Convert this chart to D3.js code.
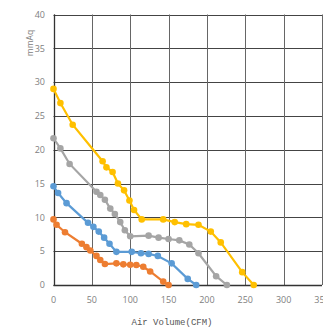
<!DOCTYPE html>
<html><head><meta charset="utf-8">
<script src="https://cdn.jsdelivr.net/npm/d3@7"></script>
<style>body{margin:0;background:#fff;}svg{display:block;}</style>
</head><body>
<svg id="c" width="323" height="327"></svg>
<script>
const xTicks = [0,50,100,150,200,250,300,350];
const yTicks = [0,5,10,15,20,25,30,35,40];
const xLabel = "Air Volume(CFM)";
const yLabel = "mmAq";

const yellowX = [0,9,25,64,69,77,84,92,99,105,115,143,158,173,189,205,218,246,261];
const yellowY = [29.0,26.9,23.7,18.3,17.4,16.7,15.0,14.0,12.5,11.1,9.7,9.7,9.3,9.0,8.9,7.9,6.3,1.9,0];
const grayX = [0,9,21,56,61,67,74,80,87,93,100,124,137,150,164,177,189,212,226];
const grayY = [21.7,20.2,17.9,13.8,13.3,12.6,11.3,10.5,9.3,8.1,7.2,7.3,7.0,6.8,6.6,6.0,4.7,1.3,0];
const blueX = [0,6,17,45,52,59,66,73,82,102,114,124,136,154,175,186];
const blueY = [14.6,13.6,12.1,9.2,8.6,7.9,7.0,6.1,4.9,4.9,4.7,4.6,4.3,3.2,0.9,0];
const orangeX = [0,4,15,37,43,48,56,61,67,82,91,100,108,117,126,143,150];
const orangeY = [9.7,8.9,7.8,6.1,5.6,5.1,4.3,3.7,3.1,3.2,3.05,3.0,2.95,2.7,2.0,0.5,0];

const seriesNames = ["orange","blue","gray","yellow"];
const seriesColors = ["#ED7D31","#5B9BD5","#A5A5A5","#FFC000"];
const seriesXs = [orangeX, blueX, grayX, yellowX];
const seriesYs = [orangeY, blueY, grayY, yellowY];

const svg = d3.select("#c");
const x = d3.scaleLinear().domain([0,350]).range([53.5,322]);
const y = d3.scaleLinear().domain([0,40]).range([285,14.5]);

// gridlines
svg.append("g").selectAll("line.h").data(yTicks).join("line")
  .attr("x1", x(0)).attr("x2", x(350))
  .attr("y1", d=>Math.round(y(d))+0.5).attr("y2", d=>Math.round(y(d))+0.5)
  .attr("stroke", "#444").attr("stroke-width", 1);
svg.append("g").selectAll("line.v").data(xTicks).join("line")
  .attr("y1", y(0)).attr("y2", y(40))
  .attr("x1", d=>Math.round(x(d))+0.5).attr("x2", d=>Math.round(x(d))+0.5)
  .attr("stroke", "#666").attr("stroke-width", 1);
// axis lines
svg.append("line").attr("x1", Math.round(x(0))+0.5).attr("x2", Math.round(x(0))+0.5)
  .attr("y1", y(0)).attr("y2", y(40)).attr("stroke","#333").attr("stroke-width",1.3);
svg.append("line").attr("x1", x(0)).attr("x2", x(350))
  .attr("y1", Math.round(y(0))+0.5).attr("y2", Math.round(y(0))+0.5).attr("stroke","#333").attr("stroke-width",1.3);

// tick labels
svg.append("g").selectAll("text").data(yTicks).join("text")
  .attr("x", 45).attr("y", d=>y(d)+3.3).attr("text-anchor","end")
  .attr("font-family","Open Sans, sans-serif").attr("font-size", 9).attr("fill","#808080")
  .text(d=>d);
svg.append("g").selectAll("text").data(xTicks).join("text")
  .attr("x", d=>x(d)).attr("y", 303).attr("text-anchor","middle")
  .attr("font-family","Open Sans, sans-serif").attr("font-size", 9).attr("fill","#808080")
  .text(d=>d);

svg.append("text").attr("transform","translate(33,43) rotate(-90)")
  .attr("text-anchor","middle").attr("font-family","Open Sans, sans-serif")
  .attr("font-size",8.5).attr("fill","#808080").text(yLabel);
svg.append("text").attr("x",172).attr("y",325).attr("text-anchor","middle")
  .attr("font-family","Liberation Mono, monospace").attr("font-size",9).attr("fill","#555")
  .text(xLabel);

const line = d3.line().x(d=>x(d[0])).y(d=>y(d[1]));
seriesNames.forEach((name,i)=>{
  const pts = seriesXs[i].map((v,j)=>[v, seriesYs[i][j]]);
  const g = svg.append("g").attr("class", name);
  g.append("path").datum(pts).attr("d", line).attr("fill","none")
    .attr("stroke", seriesColors[i]).attr("stroke-width", 2.2);
  g.selectAll("circle").data(pts).join("circle")
    .attr("cx", d=>x(d[0])).attr("cy", d=>y(d[1])).attr("r", 3.3)
    .attr("fill", seriesColors[i]);
});
</script>
</body></html>
